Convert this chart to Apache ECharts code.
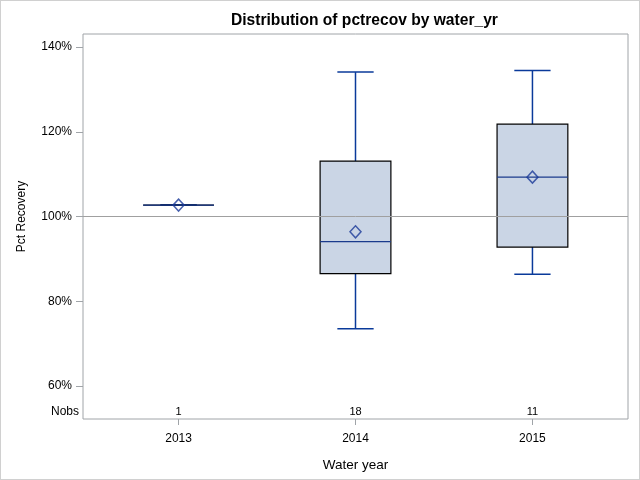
<!DOCTYPE html>
<html>
<head>
<meta charset="utf-8">
<script src="https://cdn.jsdelivr.net/npm/echarts@6/dist/echarts.min.js"></script>
<style>
html,body{margin:0;padding:0;background:#fff;}
#wrap{position:relative;width:640px;height:480px;}
#c{width:640px;height:480px;}
#frame{position:absolute;left:0;top:0;width:640px;height:480px;box-sizing:border-box;border:1px solid #d0d0d0;pointer-events:none;z-index:10;}
</style>
</head>
<body>
<div id="wrap"><div id="c"></div><div id="frame"></div></div>
<script>
// ---- data ----
const years = ['2013', '2014', '2015'];
const whiskerLow = [102.7, 73.5, 86.4];
const q1 = [102.7, 86.5, 92.8];
const median = [102.7, 94.1, 109.3];
const q3 = [102.7, 113.1, 121.8];
const whiskerHigh = [102.7, 134.1, 134.5];
const means = [102.7, 96.4, 109.3];
const nobs = [1, 18, 11];
const yTicks = [60, 80, 100, 120, 140];
const refValue = 100;

const FONT = 'Liberation Sans, Arial, sans-serif';
const boxFill = '#cad5e5';
const blue = '#0a3a9a';
const medianBlue = '#1a3a8c';
const axisGrey = '#a0a4a8';

const chart = echarts.init(document.getElementById('c'), null, {renderer: 'canvas'});

const boxData = years.map((y, i) => [i, whiskerLow[i], q1[i], median[i], q3[i], whiskerHigh[i], nobs[i]]);

function renderBox(params, api) {
  const x = api.value(0);
  const lo = api.coord([x, api.value(1)]);
  const b1 = api.coord([x, api.value(2)]);
  const md = api.coord([x, api.value(3)]);
  const b3 = api.coord([x, api.value(4)]);
  const hi = api.coord([x, api.value(5)]);
  const band = api.size([1, 0])[0];
  const bw = band * 0.40;
  const cw = band * 0.205;
  const cx = lo[0];
  const cs = params.coordSys;
  const children = [
    {type: 'line', shape: {x1: cx, y1: hi[1], x2: cx, y2: b3[1]}, style: {stroke: blue, lineWidth: 1.5}},
    {type: 'line', shape: {x1: cx, y1: b1[1], x2: cx, y2: lo[1]}, style: {stroke: blue, lineWidth: 1.5}},
    {type: 'line', shape: {x1: cx - cw / 2, y1: hi[1], x2: cx + cw / 2, y2: hi[1]}, style: {stroke: blue, lineWidth: 1.5}},
    {type: 'line', shape: {x1: cx - cw / 2, y1: lo[1], x2: cx + cw / 2, y2: lo[1]}, style: {stroke: blue, lineWidth: 1.5}},
    {type: 'rect', shape: {x: cx - bw / 2, y: b3[1], width: bw, height: b1[1] - b3[1]},
      style: {fill: boxFill, stroke: '#000', lineWidth: 1.2}},
    {type: 'line', shape: {x1: cx - bw / 2, y1: md[1], x2: cx + bw / 2, y2: md[1]}, style: {stroke: medianBlue, lineWidth: 1.3}},
    {type: 'text', x: cx, y: cs.y + cs.height - 7,
      style: {text: String(api.value(6)), fill: '#000', font: '11px ' + FONT, align: 'center', verticalAlign: 'middle'}}
  ];
  if (params.dataIndex === 0) {
    children.push({type: 'text', x: cs.x - 4, y: cs.y + cs.height - 7,
      style: {text: 'Nobs', fill: '#000', font: '12px ' + FONT, align: 'right', verticalAlign: 'middle'}});
  }
  return {type: 'group', children: children};
}

const option = {
  animation: false,
  backgroundColor: '#fff',
  title: {
    text: 'Distribution of pctrecov by water_yr',
    left: 226, top: 8,
    textStyle: {fontFamily: FONT, fontSize: 15.6, fontWeight: 'bold', color: '#000'}
  },
  grid: {left: 83, right: 12, top: 34, bottom: 61, outerBoundsMode: 'none', containLabel: false,
    show: true, borderColor: axisGrey, borderWidth: 1, backgroundColor: 'transparent'},
  xAxis: {
    type: 'value', min: -0.54, max: 2.54,
    name: 'Water year', nameLocation: 'middle', nameGap: 39,
    nameTextStyle: {fontFamily: FONT, fontSize: 13.5, color: '#000'},
    axisLine: {show: false, onZero: false},
    splitLine: {show: false},
    axisTick: {show: true, length: 6, customValues: [0, 1, 2], lineStyle: {color: axisGrey}},
    axisLabel: {customValues: [0, 1, 2], margin: 14, fontFamily: FONT, fontSize: 12, color: '#000',
      formatter: v => years[Math.round(v)]}
  },
  yAxis: {
    type: 'value', min: 52.2, max: 143.1,
    name: 'Pct Recovery', nameLocation: 'middle', nameGap: 55, nameRotate: 90,
    nameTextStyle: {fontFamily: FONT, fontSize: 12, color: '#000', padding: [0, 0, 0, 20]},
    axisLine: {show: false, onZero: false},
    splitLine: {show: false},
    axisTick: {show: true, length: 7, customValues: yTicks, lineStyle: {color: axisGrey}},
    axisLabel: {customValues: yTicks, margin: 11, fontFamily: FONT, fontSize: 12, color: '#000',
      formatter: v => v + '%'}
  },
  series: [
    {
      type: 'custom', name: 'box', renderItem: renderBox, data: boxData, z: 2,
      encode: {x: 0, y: [1, 2, 3, 4, 5]}
    },
    {
      type: 'scatter', name: 'mean', z: 5,
      data: means.map((m, i) => [i, m]),
      symbol: 'diamond', symbolSize: [11, 12],
      itemStyle: {color: 'rgba(0,0,0,0)', borderColor: '#1a3a98', borderWidth: 1.5},
      markLine: {
        silent: true, symbol: 'none', z: 3,
        label: {show: false},
        lineStyle: {color: '#a0a0a0', type: 'solid', width: 1},
        data: [{yAxis: refValue}]
      }
    }
  ]
};
chart.setOption(option);
</script>
</body>
</html>
